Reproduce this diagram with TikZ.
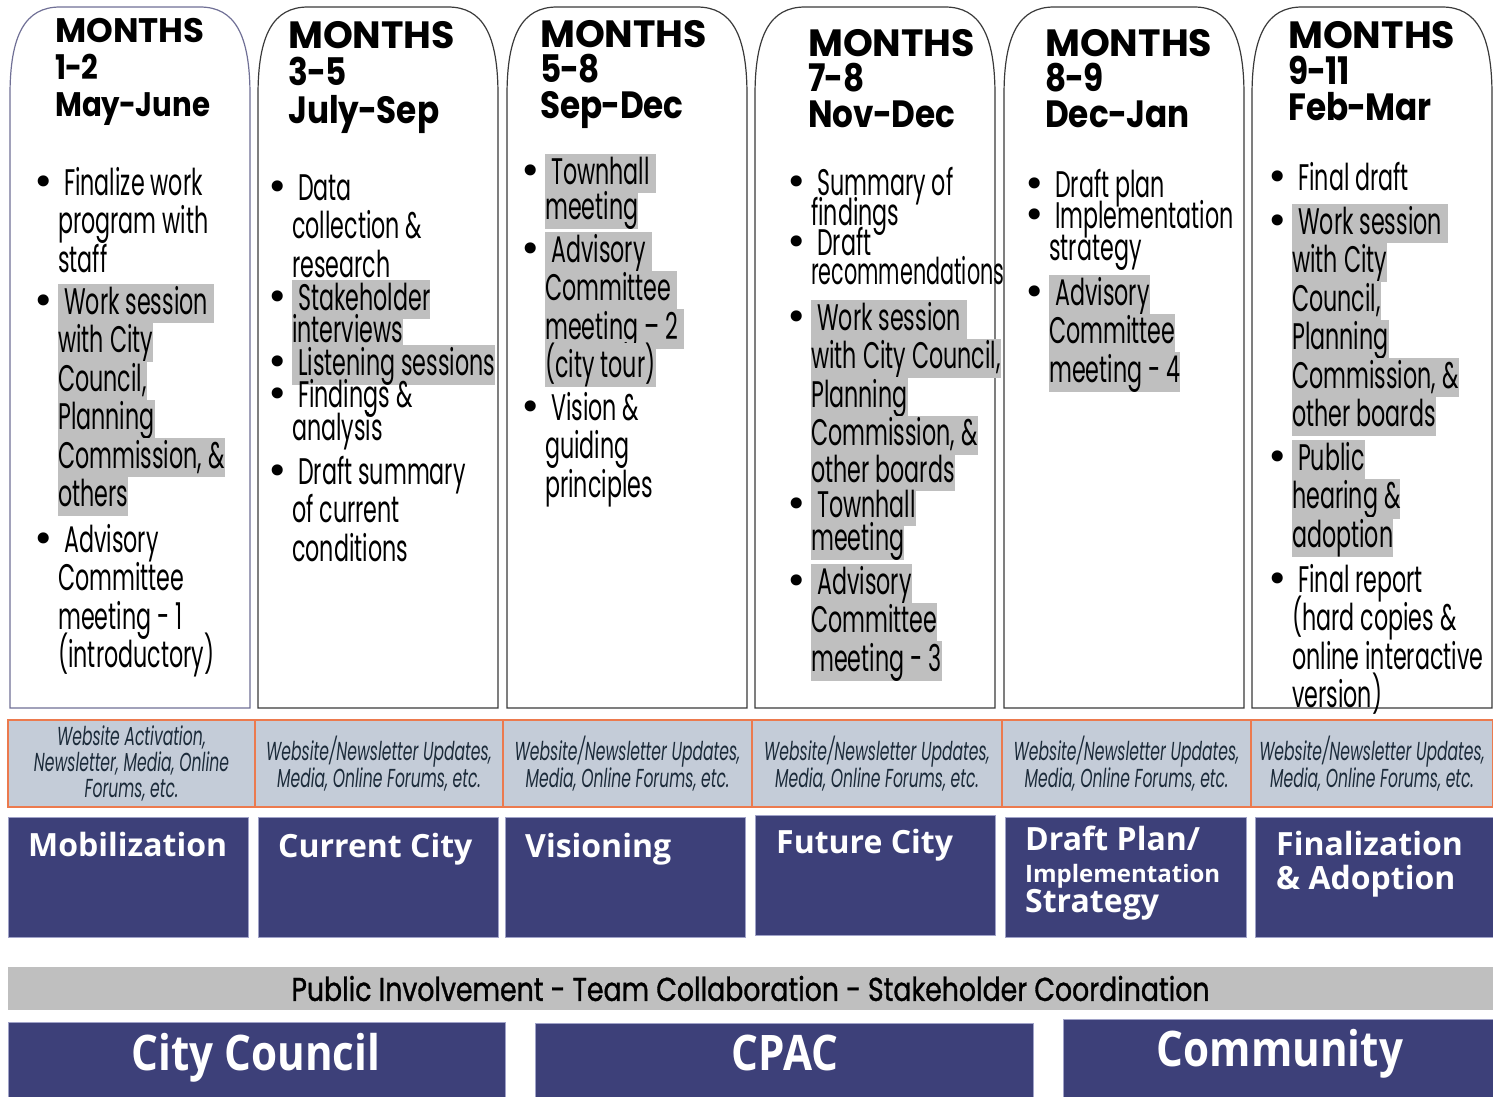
\documentclass[tikz,border=0pt]{standalone}
\usepackage{fontspec}
\setmainfont{Poppins}
\newfontfamily\condfont{Poppins}[FakeStretch=0.6]
\newfontfamily\bandfont{Poppins}[FakeStretch=0.81,FakeBold=1]
\newfontfamily\headfont{Poppins}
\newfontfamily\headnarrow{Poppins}[FakeStretch=0.86]
\newfontfamily\boxfont{Open Sans}
\newfontfamily\bigfont{Open Sans}[FakeStretch=0.86]
\newfontfamily\bulletfont{DejaVu Sans}

\definecolor{navy}{RGB}{61,64,121}
\definecolor{navyedge}{RGB}{160,162,200}
\definecolor{commfill}{RGB}{196,204,216}
\definecolor{commedge}{RGB}{236,122,78}
\definecolor{commtext}{RGB}{28,43,58}
\definecolor{hlgray}{RGB}{191,191,191}
\definecolor{tabedge}{RGB}{58,58,58}
\definecolor{tabedgeA}{RGB}{112,112,150}

\newcommand{\itm}{\rule{0pt}{30pt}\llap{{\bulletfont\fontsize{38}{38}\selectfont •}\hspace{3pt}}}
\newcommand{\hl}[1]{{\fboxsep=0pt\colorbox{hlgray}{\rule[-9pt]{0pt}{39pt}#1}}}
\newcommand{\hy}{\kern-0.8pt-\kern-0.8pt}
\newcommand{\sub}[1]{{\headnarrow #1}}

\begin{document}
\begin{tikzpicture}[x=1pt,y=-1pt,
    tab/.style={draw=tabedge,line width=1.2pt,fill=white},
    head text/.style={anchor=north west,align=left,inner sep=0pt,font=\headfont\bfseries\fontsize{38}{37.5}\selectfont},
    body text/.style={anchor=north west,align=left,inner sep=0pt,font={\condfont\fontsize{37}{38.5}\selectfont\lineskiplimit=-1000pt}},
    comm box/.style={draw=commedge,fill=commfill,line width=1.2pt,minimum height=87pt,inner sep=0pt,align=center,text=commtext,font=\condfont\itshape\fontsize{26}{26}\selectfont},
    phase box/.style={anchor=north west,fill=navy,draw=navyedge,line width=0.8pt,minimum width=240pt,minimum height=120pt,inner sep=0pt},
    phase text/.style={anchor=base west,inner sep=0pt,text=white,align=left,font=\boxfont\bfseries\fontsize{32}{34}\selectfont},
    band box/.style={fill=hlgray,minimum width=1485pt,minimum height=43pt,inner sep=0pt,font=\bandfont\fontsize{33}{33}\selectfont},
    party box/.style={anchor=north west,fill=navy,draw=navyedge,line width=0.8pt,minimum height=80pt,inner sep=0pt},
    party text/.style={anchor=base,inner sep=0pt,text=white,font=\bigfont\bfseries\fontsize{49}{49}\selectfont}]
    \useasboundingbox (0,0) rectangle (1493,1096);

    % month columns
    \draw[tab,draw=tabedgeA] (10,708) -- (10,95) .. controls (10,35) and (25,7) .. (60,7) -- (200,7) .. controls (235,7) and (250,35) .. (250,95) -- (250,708) -- cycle;
    \draw[tab] (258,708) -- (258,95) .. controls (258,35) and (273,7) .. (308,7) -- (448,7) .. controls (483,7) and (498,35) .. (498,95) -- (498,708) -- cycle;
    \draw[tab] (507,708) -- (507,95) .. controls (507,35) and (522,7) .. (557,7) -- (697,7) .. controls (732,7) and (747,35) .. (747,95) -- (747,708) -- cycle;
    \draw[tab] (755,708) -- (755,95) .. controls (755,35) and (770,7) .. (805,7) -- (945,7) .. controls (980,7) and (995,35) .. (995,95) -- (995,708) -- cycle;
    \draw[tab] (1004,708) -- (1004,95) .. controls (1004,35) and (1019,7) .. (1054,7) -- (1194,7) .. controls (1229,7) and (1244,35) .. (1244,95) -- (1244,708) -- cycle;
    \draw[tab] (1252,708) -- (1252,95) .. controls (1252,35) and (1267,7) .. (1302,7) -- (1442,7) .. controls (1477,7) and (1492,35) .. (1492,95) -- (1492,708) -- cycle;

    \node[head text,font=\headfont\bfseries\fontsize{34}{37}\selectfont] at (55,12) (h1) {\rule{0pt}{30pt}MONTHS\\\sub{1\hy 2}\\\sub{May\hy June}};
    \node[head text] at (288,18) (h2) {\rule{0pt}{30pt}MONTHS\\\sub{3\hy 5}\\\sub{July\hy Sep}};
    \node[head text,font=\headfont\bfseries\fontsize{38}{35.5}\selectfont] at (540,17) (h3) {\rule{0pt}{30pt}MONTHS\\\sub{5\hy 8}\\\sub{Sep\hy Dec}};
    \node[head text,font=\headfont\bfseries\fontsize{38}{35.5}\selectfont] at (808,26) (h4) {\rule{0pt}{30pt}MONTHS\\\sub{7\hy 8}\\\sub{Nov\hy Dec}};
    \node[head text,font=\headfont\bfseries\fontsize{38}{35.5}\selectfont] at (1045,26) (h5) {\rule{0pt}{30pt}MONTHS\\\sub{8\hy 9}\\\sub{Dec\hy Jan}};
    \node[head text,font=\headfont\bfseries\fontsize{38}{36}\selectfont] at (1288,18) (h6) {\rule{0pt}{30pt}MONTHS\\\sub{9\hy 11}\\\sub{Feb\hy Mar}};

    % tasks
    \node[body text] at (58,165) (b1) {\itm~Finalize work\\ program with\\ staff\\[3.5pt]
        \itm\hl{~Work session~}\\ \hl{with City}\\ \hl{Council,}\\ \hl{Planning}\\ \hl{Commission, \&}\\ \hl{others}\\[7pt]
        \itm~Advisory\\ Committee\\ meeting - 1\\ (introductory)};
    \node[body text] at (292,170) (b2) {\itm~Data\\ collection \&\\ research\\[-5.5pt]
        \itm\hl{~Stakeholder}\\[-6.5pt] \hl{interviews}\\[-5.5pt]
        \itm\hl{~Listening sessions}\\[-6.5pt]
        \itm~Findings \&\\[-5.5pt] analysis\\[5.5pt]
        \itm~Draft summary\\ of current\\ conditions};
    \node[body text] at (545,154) (b3) {\itm\hl{~Townhall~}\\[-3.5pt] \hl{meeting}\\[4.5pt]
        \itm\hl{~Advisory~}\\ \hl{Committee~}\\ \hl{meeting – 2~}\\ \hl{(city tour)}\\[4pt]
        \itm~Vision \&\\ guiding\\ principles};
    \node[body text] at (811,165) (b4) {\itm~Summary of\\[-8.5pt] findings\\[-8.5pt]
        \itm~Draft\\[-9.5pt] {\addfontfeatures{FakeStretch=0.56}recommendations}\\[7.5pt]
        \itm\hl{~Work session~}\\ \hl{with City Council,}\\ \hl{Planning}\\ \hl{Commission, \&}\\[-2pt] \hl{other boards}\\[-3.5pt]
        \itm\hl{~Townhall}\\[-5.5pt] \hl{meeting}\\[5.5pt]
        \itm\hl{~Advisory}\\ \hl{Committee}\\ \hl{meeting - 3}};
    \node[body text] at (1049,167) (b5) {\itm~Draft plan\\[-7.5pt]
        \itm~Implementation\\[-6.5pt] strategy\\[6.5pt]
        \itm\hl{~Advisory}\\ \hl{Committee}\\ \hl{meeting - 4}};
    \node[body text] at (1292,160) (b6) {\itm~Final draft\\[5.5pt]
        \itm\hl{~Work session~}\\ \hl{with City}\\ \hl{Council,}\\ \hl{Planning}\\ \hl{Commission, \&}\\ \hl{other boards}\\[5pt]
        \itm\hl{~Public}\\ \hl{hearing \&}\\ \hl{adoption}\\[6.5pt]
        \itm~Final report\\ (hard copies \&\\ online interactive\\ version)};

    % outreach row
    \node[comm box,minimum width=247pt] at (131.5,763.5) (w1) {Website Activation,\\Newsletter, Media, Online\\Forums, etc.};
    \node[comm box,minimum width=248pt] at (379,763.5) (w2) {Website/Newsletter Updates,\\Media, Online Forums, etc.};
    \node[comm box,minimum width=249pt] at (627.5,763.5) (w3) {Website/Newsletter Updates,\\Media, Online Forums, etc.};
    \node[comm box,minimum width=250pt] at (877,763.5) (w4) {Website/Newsletter Updates,\\Media, Online Forums, etc.};
    \node[comm box,minimum width=249pt] at (1126.5,763.5) (w5) {Website/Newsletter Updates,\\Media, Online Forums, etc.};
    \node[comm box,minimum width=242pt] at (1372,763.5) (w6) {Website/Newsletter Updates,\\Media, Online Forums, etc.};

    % phases
    \node[phase box] at (8,817) (p1) {};
    \node[phase box] at (258,817) (p2) {};
    \node[phase box] at (505,817) (p3) {};
    \node[phase box] at (755,815) (p4) {};
    \node[phase box,minimum width=241pt] at (1005,817) (p5) {};
    \node[phase box,minimum width=238pt] at (1255,817) (p6) {};
    \node[phase text] at (28,856) (t1) {Mobilization};
    \node[phase text] at (278,857) (t2) {Current City};
    \node[phase text] at (525,857) (t3) {Visioning};
    \node[phase text] at (776,853) (t4) {Future City};
    \node[phase text] at (1025,850) (t5a) {Draft Plan/};
    \node[phase text,font=\boxfont\bfseries\fontsize{24}{24}\selectfont] at (1025,882) (t5b) {Implementation};
    \node[phase text] at (1025,912) (t5c) {Strategy};
    \node[phase text] at (1276,855) (t6a) {Finalization};
    \node[phase text] at (1276,889) (t6b) {\& Adoption};

    % bottom rows
    \node[band box] at (750.5,988.5) (pub) {Public Involvement - Team Collaboration - Stakeholder Coordination};
    \node[party box,minimum width=497pt] at (8,1022) (cc) {};
    \node[party box,minimum width=498pt] at (535,1023) (cpac) {};
    \node[party box,minimum width=432pt] at (1063,1019) (com) {};
    \node[party text] at (256,1070) (cct) {City Council};
    \node[party text] at (785,1070) (cpt) {CPAC};
    \node[party text] at (1280,1066) (cmt) {Community};
\end{tikzpicture}
\end{document}
